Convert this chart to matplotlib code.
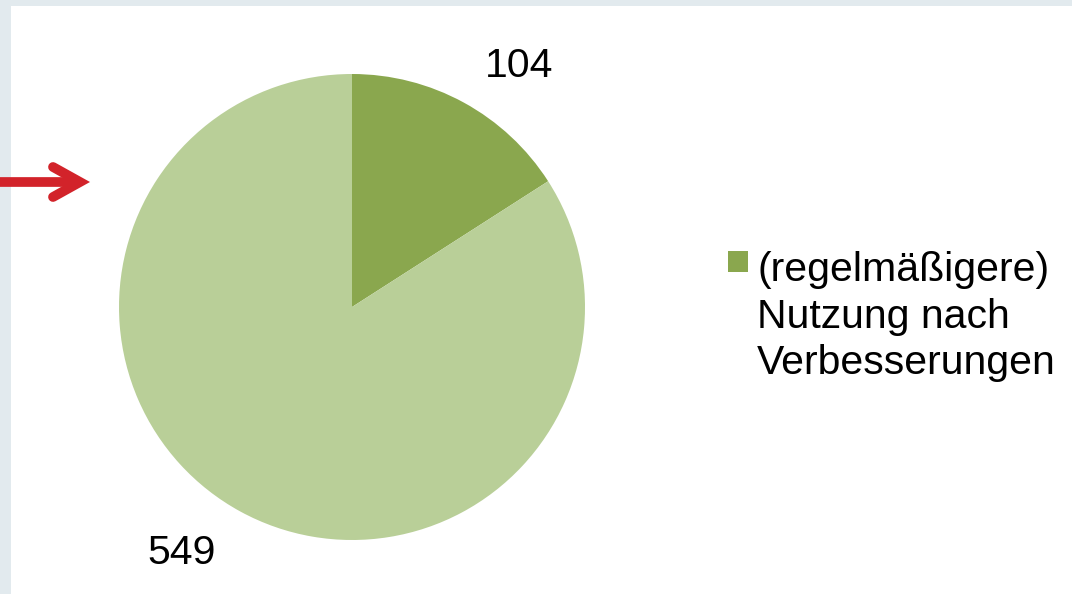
import numpy as np
import matplotlib.pyplot as plt
from matplotlib.patches import Rectangle

plt.rcParams['font.family'] = ['Liberation Sans', 'DejaVu Sans']

# data
values = [104, 549]
colors = ['#8AA74E', '#B9CF98']
legend_lines = ['(regelmäßigere)', 'Nutzung nach', 'Verbesserungen']

W, H = 1072, 594
fig = plt.figure(figsize=(W / 100, H / 100), dpi=100, facecolor='#E2EAEE')

# white panel
fig.patches.append(Rectangle((11 / W, 0), 1 - 11 / W, 1 - 6 / H,
                             transform=fig.transFigure, facecolor='white',
                             edgecolor='none', zorder=-5))

# pie axes: center (352, 307), radius 233 px
cx, cy, r = 352, 307, 233
ax = fig.add_axes([(cx - r) / W, (H - cy - r) / H, 2 * r / W, 2 * r / H])
ax.set_zorder(2)
wedges, _ = ax.pie(values, colors=colors, startangle=90, counterclock=False,
                   radius=1, wedgeprops=dict(linewidth=0))
ax.set_xlim(-1, 1)
ax.set_ylim(-1, 1)
ax.set_aspect('equal')
ax.axis('off')

fs = 29.5
# value labels outside the slices
label_r = [1.26, 1.285]
for w, v, lr in zip(wedges, values, label_r):
    mid = np.deg2rad((w.theta1 + w.theta2) / 2 - 6)
    ax.text(lr * np.cos(mid), lr * np.sin(mid), str(v), fontsize=fs,
            ha='center', va='center', color='black', clip_on=False)

# legend: only the first slice, square aligned with the first line
fig.patches.append(Rectangle((728 / W, 1 - 272 / H), 20 / W, 21 / H,
                             transform=fig.transFigure,
                             facecolor=wedges[0].get_facecolor(),
                             edgecolor='none', zorder=3))
for i, line in enumerate(legend_lines):
    fig.text(757 / W, 1 - (281 + 46.5 * i) / H, line, fontsize=fs,
             ha='left', va='baseline', color='black')

# red arrow on the left
ay = H - 182
red = '#D2232A'
fig.add_artist(plt.Line2D([0, 80 / W], [ay / H, ay / H], color=red,
                          lw=7, solid_capstyle='butt'))
fig.add_artist(plt.Line2D([53 / W, 80 / W, 53 / W],
                          [(ay + 15) / H, ay / H, (ay - 15) / H],
                          color=red, lw=7, solid_capstyle='round',
                          solid_joinstyle='miter'))

fig.savefig('out.png', dpi=100, facecolor=fig.get_facecolor())
